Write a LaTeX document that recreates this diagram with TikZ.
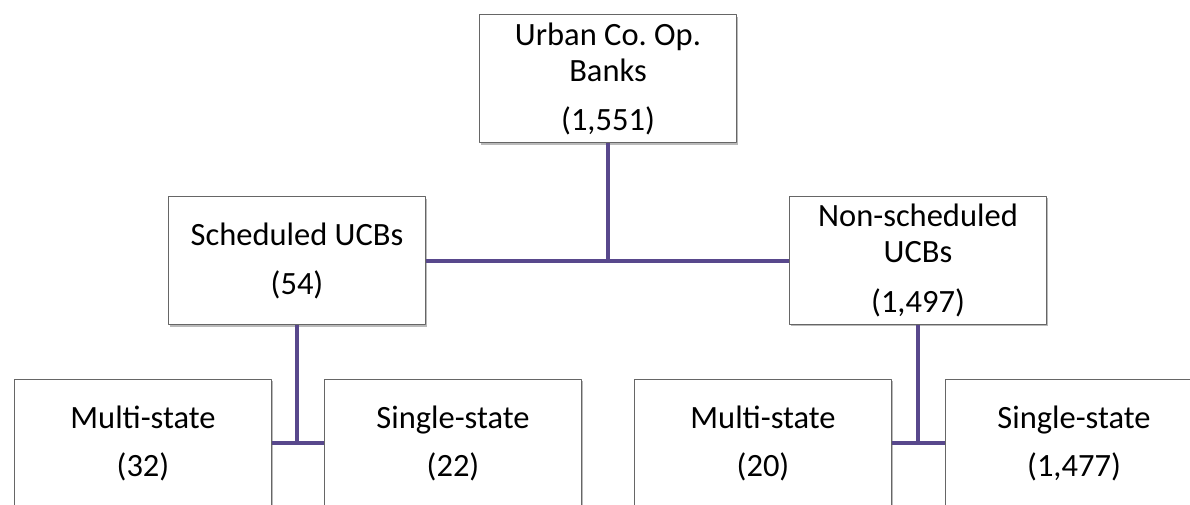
\documentclass[tikz,border=0pt]{standalone}
\usepackage{fontspec}
\setmainfont{Carlito}
\usetikzlibrary{shadows}
\definecolor{linkpurple}{RGB}{88,72,140}
\frenchspacing
\begin{document}
\begin{tikzpicture}[x=1pt, y=-1pt, line join=round,
  box/.style={draw=gray!80!black, line width=1pt, fill=white,
    minimum width=257pt, minimum height=128pt, inner sep=0pt, align=center,
    font=\fontsize{32.5}{36}\selectfont, text=black,
    drop shadow={shadow xshift=1pt, shadow yshift=-2pt, fill=black!45, opacity=.6}},
  link/.style={draw=linkpurple, line width=4pt}]

\useasboundingbox[fill=white] (0,0) rectangle (1190,504);
\clip (0,0) rectangle (1190,504);

\node[box] (banks) at (608,78.5) {Urban Co. Op.\\Banks\\[13pt](1,551)};
\node[box] (sched) at (297,260.5) {Scheduled UCBs\\[13pt](54)};
\node[box] (nonsched) at (918,260) {Non-scheduled\\UCBs\\[14pt](1,497)};

\node[box] (schedmulti) at (143,443) {Multi-state\\[12pt](32)};
\node[box] (schedsingle) at (453,443) {Single-state\\[12pt](22)};
\node[box] (nonmulti) at (763,443) {Multi-state\\[12pt](20)};
\node[box] (nonsingle) at (1074,443) {Single-state\\[12pt](1,477)};

\draw[link] (banks.south) -- (banks.south |- sched.east);
\draw[link] (sched.east) -- (sched.east -| nonsched.west);
\foreach \p/\a/\b in {sched/schedmulti/schedsingle, nonsched/nonmulti/nonsingle}
 {\draw[link] (\p.south) -- (\p.south |- \a.east);
  \draw[link] (\a.east) -- (\b.west);}
\end{tikzpicture}
\end{document}
